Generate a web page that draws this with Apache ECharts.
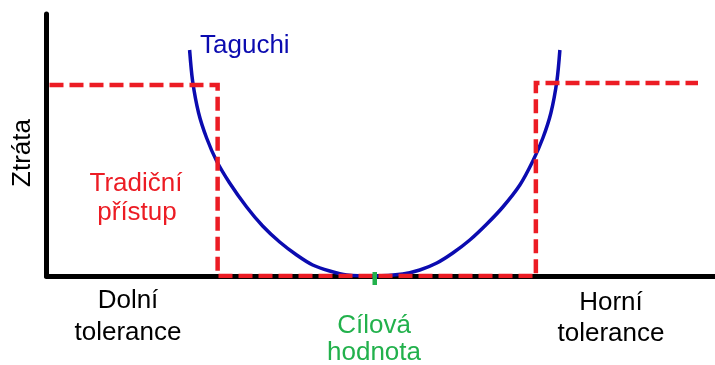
<!DOCTYPE html>
<html>
<head>
    <meta charset="utf-8"/>
    <title>Taguchi</title>
    <script src="https://cdn.jsdelivr.net/npm/echarts@6/dist/echarts.min.js"></script>
    <style>
        html, body { margin: 0; padding: 0; background: #fff; }
        #main { width: 715px; height: 365px; }
    </style>
</head>
<body>
<div id="main"></div>
<script>
    // Taguchiho ztrátová funkce
    var tagX = [143, 146, 152, 160, 170, 183, 200, 216, 233, 250, 266, 283, 300, 328,
        356, 373, 390, 406, 423, 440, 456, 473, 486, 496, 504, 510, 513];
    var tagY = [226, 195, 163, 138, 115, 93, 69, 50, 34, 21, 11, 5, 1, 0,
        2, 6, 13, 23, 36, 52, 69, 91, 115, 138, 163, 195, 226];

    // tradiční přístup - skoková funkce
    var tradX = [3, 171, 171, 489, 489, 651];
    var tradY = [191, 191, 0, 0, 193, 193];

    // cílová hodnota
    var targetX = 328;
    var targetTick = [-9, 4];

    var xMax = 668;
    var yMax = 262;

    var red = '#ec1c24';
    var blue = '#0b0bb0';
    var green = '#22b14c';
    var font = '26px "Liberation Sans", Arial, sans-serif';

    function pairs(xs, ys) {
        var out = [];
        for (var i = 0; i < xs.length; i++) {
            out.push([xs[i], ys[i]]);
        }
        return out;
    }

    var chart = echarts.init(document.getElementById('main'), null, {renderer: 'canvas'});

    function txt(text, x, y, color, align, rotation) {
        return {
            type: 'text',
            x: x,
            y: y,
            rotation: rotation || 0,
            z: 10,
            style: {
                text: text,
                font: font,
                fill: color,
                align: align || 'center',
                verticalAlign: 'middle'
            }
        };
    }

    var option = {
        animation: false,
        grid: {left: 46.5, right: 0, top: 14, bottom: 89},
        xAxis: {
            type: 'value',
            min: 0,
            max: xMax,
            axisLine: {show: true, lineStyle: {color: '#000', width: 5}},
            axisTick: {show: false},
            axisLabel: {show: false},
            splitLine: {show: false}
        },
        yAxis: {
            type: 'value',
            min: 0,
            max: yMax,
            axisLine: {show: true, lineStyle: {color: '#000', width: 5}},
            axisTick: {show: false},
            axisLabel: {show: false},
            splitLine: {show: false}
        },
        series: [
            {
                name: 'Taguchi',
                type: 'line',
                data: pairs(tagX, tagY),
                smooth: 0.3,
                symbol: 'none',
                lineStyle: {color: blue, width: 3.5, cap: 'butt'}
            },
            {
                name: 'Tradiční přístup',
                type: 'line',
                data: pairs(tradX, tradY),
                symbol: 'none',
                lineStyle: {color: red, width: 4.5, type: [14, 6], cap: 'butt', join: 'miter'}
            },
            {
                name: 'Cílová hodnota',
                type: 'line',
                clip: false,
                data: [[targetX, targetTick[0]], [targetX, targetTick[1]]],
                symbol: 'none',
                lineStyle: {color: green, width: 4.5, cap: 'butt'}
            }
        ],
        graphic: [
            txt('Ztráta', 23, 153, '#000', 'center', Math.PI / 2),
            txt('Taguchi', 200, 46, blue, 'left'),
            txt('Tradiční', 136, 184, red),
            txt('přístup', 137, 213, red),
            txt('Dolní', 128, 301, '#000'),
            txt('tolerance', 128, 333, '#000'),
            txt('Cílová', 374, 326, green),
            txt('hodnota', 374, 353, green),
            txt('Horní', 611, 303, '#000'),
            txt('tolerance', 611, 334, '#000')
        ]
    };

    chart.setOption(option);

    window.onresize = function () {
        chart.resize();
    };
</script>
</body>
</html>
